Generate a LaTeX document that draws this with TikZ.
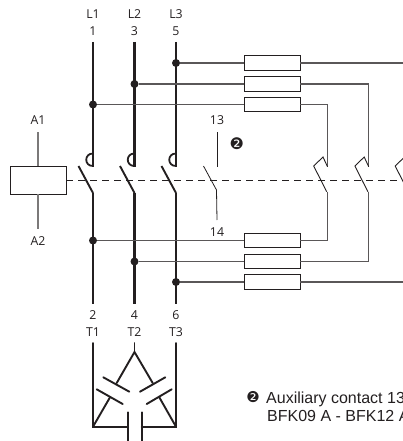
\documentclass[tikz,border=0pt]{standalone}
\usepackage{fontspec}
\setmainfont{Open Sans}
\newfontfamily\helv{Liberation Sans}
\newfontfamily\djv{DejaVu Sans}
\definecolor{ink}{HTML}{231F20}
\tikzset{
  x=1pt,y=-1pt,
  lab/.style={inner sep=0pt,font=\fontsize{12.3}{12.3}\selectfont,text=ink},
  power/.style={draw=ink,line width=2.3pt},
  thin wire/.style={draw=ink!75,line width=1.1pt},
  blade/.style={draw=ink,line width=1.9pt},
  load/.style={draw=ink,line width=1.9pt,line cap=round},
  fuse/.style={draw=ink,fill=white,line width=0.9pt,minimum width=55.5pt,minimum height=14.3pt,inner sep=0pt},
  dot/.style={circle,fill=ink,inner sep=0pt,minimum size=8pt},
  coil/.style={draw=ink,fill=white,line width=0.9pt,minimum width=56pt,minimum height=28pt,inner sep=0pt},
  mech/.style={draw=ink,line width=0.9pt,dash pattern=on 7pt off 5pt},
  sig/.style={draw=ink!60,line width=1.1pt},
  hook/.style={draw=ink,line width=1.8pt},
  note/.style={inner sep=0pt,anchor=base west,text=ink,font=\helv\fontsize{16}{16}\selectfont},
  bullet/.style={inner sep=0pt,text=ink,font=\djv\fontsize{16}{16}\selectfont},
}
\begin{document}
\begin{tikzpicture}
\useasboundingbox (0,0) rectangle (403,441);
\clip (0,0) rectangle (403,441);
% labels
\foreach \n/\x/\a/\b/\c/\d in {a/93/L1/1/2/T1,b/134.5/L2/3/4/T2,c/176/L3/5/6/T3}{
  \node[lab] (top\n) at (\x,14.5) {\a};
  \node[lab] (num\n) at (\x,31.5) {\b};
  \node[lab] (bot\n) at (\x,315.5) {\c};
  \node[lab] (term\n) at (\x,332.5) {\d};
}
% mechanical link
\coordinate (mechend) at (403,180.5);
\node[coil] (coil) at (38,180) {};
\draw[mech] (66,180.5) -- (mechend);
% power poles
\foreach \x in {93,134.5,176}{
  \draw[power] (\x,42) -- (\x,166.5);
  \draw[power] (\x,193) -- (\x,304);
  \draw[blade] (\x-14.5,166) -- (\x,193);
  \draw[hook] (\x,153.5) .. controls (\x-9,153.5) and (\x-9,166) .. (\x,166);
}
% dots
\node[dot] (d1) at (93,104.5) {};
\node[dot] (d2) at (134.5,84) {};
\node[dot] (d3) at (176,63) {};
\node[dot] (d4) at (93,240.5) {};
\node[dot] (d5) at (134.5,261.5) {};
\node[dot] (d6) at (176,282) {};
% fuses
\node[fuse] (f3) at (272.2,63) {};
\node[fuse] (f2) at (272.2,84) {};
\node[fuse] (f1) at (272.2,104.5) {};
\node[fuse] (f4) at (272.2,240.5) {};
\node[fuse] (f5) at (272.2,261.5) {};
\node[fuse] (f6) at (272.2,282) {};
\coordinate (r3) at (403,63);
\coordinate (r6) at (403,282);
\draw[thin wire] (d3) -- (f3) (f3) -- (r3);
\draw[thin wire] (d2) -- (f2);
\draw[thin wire] (d1) -- (f1);
\draw[thin wire] (d4) -- (f4);
\draw[thin wire] (d5) -- (f5);
\draw[thin wire] (d6) -- (f6) (f6) -- (r6);
% overload contacts
\foreach \n/\x/\f/\g in {p/327.5/f1/f4,q/368.7/f2/f5}{
  \coordinate (\n t) at (\x,166.7);
  \coordinate (\n b) at (\x,192);
  \draw[thin wire] (\f) -| (\n t);
  \draw[thin wire] (\g) -| (\n b);
  \draw[draw=ink,line width=0.9pt] (\n t) -- ++(-4.5,-9.7) -- ++(-9.3,9) -- ++(13,25.7);
}
\coordinate (rt) at (409,166.7);
\draw[draw=ink,line width=0.9pt] (rt) -- ++(-4.5,-9.7) -- ++(-9.3,9) -- ++(13,25.7);
% aux contact
\coordinate (aux1) at (217,132);
\coordinate (aux2) at (217,166.5);
\coordinate (aux3) at (203.5,166);
\coordinate (aux4) at (216.5,190);
\coordinate (aux5) at (217,220);
\draw[draw=ink,line width=0.8pt] (aux1) -- (aux2);
\draw[draw=ink,line width=0.8pt] (aux3) -- (aux4) -- (aux5);
\node[lab] (n13) at (217,120) {13};
\node[lab] (n14) at (217,232) {14};
\node[bullet] (mark) at (236.7,144) {❷};
% coil
\node[lab] (a1) at (38,120) {A1};
\node[lab] (a2) at (38,241) {A2};
\coordinate (a1e) at (38,132);
\coordinate (a2e) at (38,229);
\draw[sig] (a1e) -- (coil.north);
\draw[sig] (coil.south) -- (a2e);
% motor
\coordinate (apex) at (134.5,352);
\coordinate (t2) at (134.5,343);
\coordinate (m1) at (93,343);
\coordinate (m3) at (176,343);
\coordinate (k1) at (93,426.7);
\coordinate (k3) at (176,426.7);
\draw[load] (t2) -- (apex);
\draw[load] (m1) -- (k1) -- (127.7,426.7);
\draw[load] (m3) -- (k3) -- (141.7,426.7);
\draw[load] (116.7,383) -- (apex) -- (152.7,383);
\draw[load] (103.3,377.3) -- (129.3,391.7);
\draw[load] (165.3,377.3) -- (140,391.7);
\draw[load] (k1) -- (110,397.3);
\draw[load] (96.7,389.3) -- (122.7,404);
\draw[load] (k3) -- (159.3,397.3);
\draw[load] (171.7,389.3) -- (146.7,404);
\draw[load] (127.7,412.3) -- (127.7,445);
\draw[load] (141.7,412.3) -- (141.7,445);
% note
\node[note] (nt1) at (266,403.2) {Auxiliary contact 13};
\node[bullet,font=\djv\fontsize{15}{15}\selectfont] (nm) at (253,397.5) {❷};
\node[note] (nt2) at (267,421.5) {BFK09 A - BFK12 A};
\end{tikzpicture}
\end{document}
